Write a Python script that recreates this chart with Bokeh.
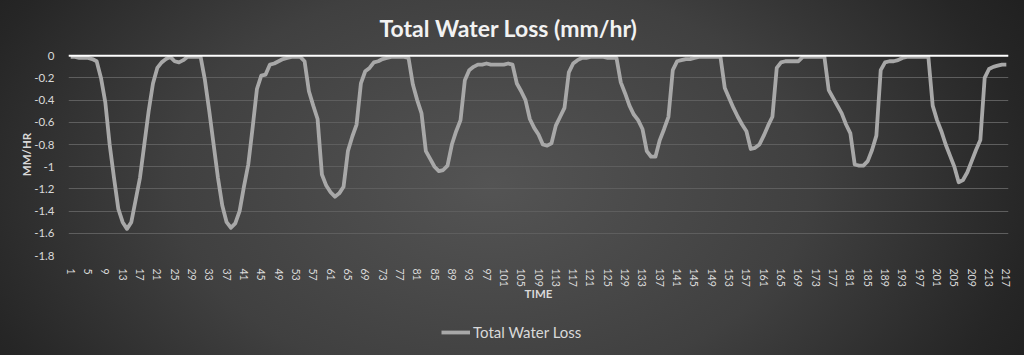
from bokeh.plotting import figure
from bokeh.layouts import column
from bokeh.models import Range1d, FixedTicker, Span, Legend, LegendItem, ColumnDataSource
from bokeh.embed import file_html
from bokeh.resources import INLINE

# ---- data ----
time = list(range(1, 218))
water_loss = [
    -0.01, -0.01, -0.02, -0.02, -0.02, -0.03, -0.05, -0.20, -0.42, -0.80,
    -1.10, -1.38, -1.50, -1.56, -1.50, -1.30, -1.10, -0.80, -0.50, -0.25,
    -0.11, -0.06, -0.03, -0.01, -0.05, -0.06, -0.04, -0.01, -0.01, -0.01,
    -0.01, -0.22, -0.50, -0.80, -1.10, -1.35, -1.50, -1.55, -1.51, -1.40,
    -1.18, -0.98, -0.65, -0.30, -0.18, -0.17, -0.08, -0.07, -0.05, -0.03,
    -0.02, -0.01, -0.01, -0.01, -0.05, -0.32, -0.45, -0.57, -1.07, -1.17,
    -1.23, -1.27, -1.24, -1.18, -0.86, -0.73, -0.62, -0.25, -0.14, -0.11,
    -0.06, -0.05, -0.03, -0.02, -0.01, -0.01, -0.01, -0.01, -0.02, -0.26,
    -0.40, -0.52, -0.86, -0.93, -1.00, -1.04, -1.03, -0.99, -0.80, -0.68,
    -0.58, -0.22, -0.13, -0.10, -0.08, -0.08, -0.07, -0.08, -0.08, -0.08,
    -0.08, -0.07, -0.08, -0.25, -0.32, -0.40, -0.57, -0.65, -0.71, -0.80,
    -0.81, -0.79, -0.63, -0.55, -0.47, -0.15, -0.07, -0.04, -0.02, -0.02,
    -0.01, -0.01, -0.01, -0.01, -0.02, -0.02, -0.02, -0.24, -0.34, -0.45,
    -0.53, -0.58, -0.66, -0.86, -0.91, -0.91, -0.76, -0.66, -0.55, -0.13,
    -0.05, -0.04, -0.03, -0.03, -0.02, -0.01, -0.01, -0.01, -0.01, -0.01,
    -0.01, -0.29, -0.38, -0.47, -0.55, -0.62, -0.68, -0.84, -0.83, -0.80,
    -0.72, -0.63, -0.55, -0.11, -0.06, -0.05, -0.05, -0.05, -0.05, -0.01,
    -0.01, -0.01, -0.01, -0.01, -0.01, -0.31, -0.38, -0.45, -0.52, -0.62,
    -0.70, -0.98, -0.99, -0.99, -0.95, -0.85, -0.72, -0.13, -0.06, -0.05,
    -0.05, -0.04, -0.02, -0.01, -0.01, -0.01, -0.01, -0.01, -0.01, -0.45,
    -0.58, -0.68, -0.80, -0.90, -1.00, -1.14, -1.12, -1.05, -0.95, -0.85,
    -0.76, -0.20, -0.12, -0.10, -0.09, -0.08, -0.08,
]
x_tick_values = list(range(1, 218, 4))
y_tick_values = [0, -0.2, -0.4, -0.6, -0.8, -1.0, -1.2, -1.4, -1.6, -1.8]
y_tick_labels = ["0", "-0.2", "-0.4", "-0.6", "-0.8", "-1", "-1.2", "-1.4", "-1.6", "-1.8"]
title_text = "Total Water Loss (mm/hr)"
series_name = "Total Water Loss"

FONT = "Lato"
LABEL_COLOR = "#d9d9d9"
LINE_COLOR = "#a8a8a8"

src = ColumnDataSource(dict(time=time, loss=water_loss))

p = figure(
    width=1024, height=310,
    output_backend="svg", toolbar_location=None,
    x_range=Range1d(0.5, 217.5), y_range=Range1d(-1.8, 0.02),
    min_border_left=68, min_border_right=16, min_border_top=53, min_border_bottom=55,
)
p.background_fill_alpha = 0
p.border_fill_alpha = 0
p.outline_line_color = None

# title
p.title.text = title_text
p.title.align = "left"
p.title.offset = 311
p.title.standoff = 23
p.title.text_font = FONT
p.title.text_font_style = "bold"
p.title.text_font_size = "23px"
p.title.text_color = "#f2f2f2"

r = p.line("time", "loss", source=src, line_color=LINE_COLOR, line_width=3.8, line_join="round")

p.add_layout(Span(location=0, dimension="width", line_color="#ffffff", line_width=2))

# y axis
ya = p.yaxis[0]
ya.ticker = FixedTicker(ticks=y_tick_values)
ya.major_label_overrides = {v: s for v, s in zip(y_tick_values, y_tick_labels)}
ya.axis_line_color = None
ya.major_tick_line_color = None
ya.minor_tick_line_color = None
ya.major_label_text_color = LABEL_COLOR
ya.major_label_text_font = FONT
ya.major_label_text_font_size = "11.5px"
ya.major_label_standoff = 8
ya.axis_label = "MM/HR"
ya.axis_label_text_font = FONT
ya.axis_label_text_font_style = "bold"
ya.axis_label_text_font_size = "11.5px"
ya.axis_label_text_color = LABEL_COLOR
ya.axis_label_standoff = -2

# x axis
xa = p.xaxis[0]
xa.ticker = FixedTicker(ticks=x_tick_values)
xa.major_label_orientation = "vertical"
xa.axis_line_color = None
xa.major_tick_line_color = None
xa.minor_tick_line_color = None
xa.major_label_text_color = LABEL_COLOR
xa.major_label_text_font = FONT
xa.major_label_text_font_size = "10.5px"
xa.major_label_standoff = 7
xa.axis_label = "TIME"
xa.axis_label_text_font = FONT
xa.axis_label_text_font_style = "bold"
xa.axis_label_text_font_size = "11.5px"
xa.axis_label_text_color = LABEL_COLOR
xa.axis_label_standoff = -3

p.xgrid.grid_line_color = None
p.ygrid.ticker = FixedTicker(ticks=y_tick_values)
p.ygrid.grid_line_color = "#5e5e5e"
p.ygrid.grid_line_width = 1

# legend strip below the chart (same series, its line kept out of view)
lg = figure(
    width=1024, height=45, output_backend="svg", toolbar_location=None,
    x_range=Range1d(-20, -10), y_range=Range1d(5, 10),
    x_axis_location=None, y_axis_location=None,
    min_border=0,
)
lg.background_fill_alpha = 0
lg.border_fill_alpha = 0
lg.outline_line_color = None
lg.xgrid.visible = False
lg.ygrid.visible = False
r2 = lg.line("time", "loss", source=src, line_color=LINE_COLOR, line_width=3.8)

legend = Legend(items=[LegendItem(label=series_name, renderers=[r2])], location=(373, 13),
                padding=0, margin=0, spacing=0, glyph_width=29, glyph_height=20,
                label_height=20, label_standoff=3, border_line_color=None,
                background_fill_alpha=0, label_text_color=LABEL_COLOR,
                label_text_font=FONT, label_text_font_size="15px")
lg.add_layout(legend)

layout = column(p, lg, spacing=0)
layout.styles = {"background-image": "radial-gradient(ellipse 62% 115% at 48% 52%, #545454 0%, #404040 50%, #262626 85%, #1e1e1e 100%)"}

open("out.html", "w").write(file_html(layout, INLINE))
